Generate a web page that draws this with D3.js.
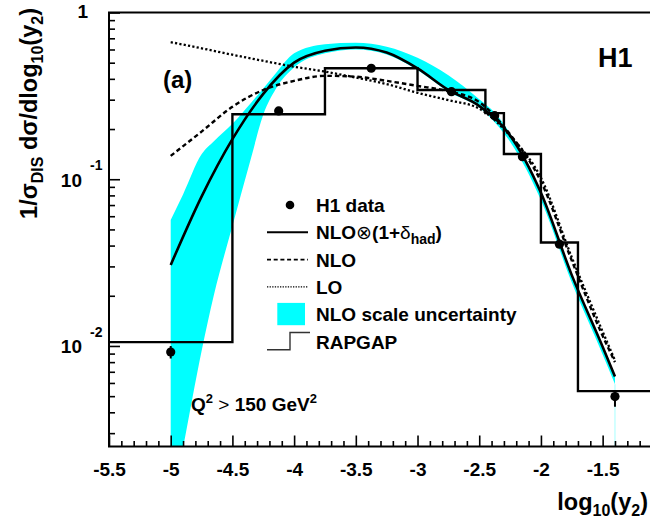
<!DOCTYPE html>
<html>
<head>
<meta charset="utf-8">
<script src="https://cdn.jsdelivr.net/npm/d3@7"></script>
<style>
  body { margin: 0; background: #fff; }
  svg { display: block; }
  text { font-family: "Liberation Sans", Arial, Helvetica, sans-serif; font-weight: bold; fill: #000; }
</style>
</head>
<body>
<svg id="chart" width="650" height="521"></svg>
<script>
// ---- H1 data: normalised cross section vs log10(y2) ----
const dataX     = [-5.0, -4.125, -3.375, -2.725, -2.375, -2.15, -1.85, -1.4];
const dataY     = [0.0092, 0.257, 0.463, 0.335, 0.2405, 0.1366, 0.0408, 0.00497];
const dataErrUp = [0.0008, 0.006, 0.010, 0.008, 0.006, 0.004, 0.0015, 0.0003];
const dataErrDn = [0.0008, 0.006, 0.010, 0.008, 0.006, 0.004, 0.0015, 0.00065];

// ---- RAPGAP prediction (histogram) ----
const rapgapEdges = [-5.5, -4.5, -3.75, -3.0, -2.45, -2.3, -2.0, -1.7, -1.1];
const rapgapY     = [0.01054, 0.2453, 0.463, 0.343, 0.249, 0.1418, 0.0417, 0.00536];

// ---- theory curves ----
const curveX = [-5.0, -4.75, -4.5, -4.25, -4.0, -3.75, -3.5, -3.25, -3.0, -2.75, -2.5, -2.25, -2.0, -1.75, -1.5, -1.4];
const nloHad = [0.0306, 0.0787, 0.174, 0.325, 0.50, 0.589, 0.617, 0.575, 0.462, 0.343, 0.275, 0.183, 0.083, 0.0266, 0.0099, 0.00656];
const nlo    = [0.138, 0.193, 0.272, 0.343, 0.389, 0.417, 0.412, 0.389, 0.363, 0.337, 0.290, 0.186, 0.097, 0.0325, 0.0115, 0.0080];
const lo     = [0.664, 0.61, 0.558, 0.513, 0.473, 0.442, 0.407, 0.372, 0.33, 0.298, 0.265, 0.182, 0.102, 0.034, 0.0122, 0.0082];

// ---- NLO scale uncertainty band ----
const bandX  = [-5.0, -4.9, -4.75, -4.65, -4.5, -4.35, -4.25, -4.15, -4.0, -3.75, -3.5, -3.25, -3.0, -2.75, -2.5, -2.375, -2.25, -2.0, -1.75, -1.5, -1.4];
const bandLo = [0.001, 0.00245, 0.0093, 0.0202, 0.0524, 0.133, 0.244, 0.347, 0.468, 0.569, 0.600, 0.560, 0.452, 0.335, 0.269, 0.220, 0.168, 0.075, 0.024, 0.0089, 0.0059];
const bandHi = [0.057, 0.081, 0.141, 0.169, 0.215, 0.287, 0.350, 0.430, 0.569, 0.646, 0.658, 0.624, 0.535, 0.420, 0.302, 0.251, 0.188, 0.085, 0.0272, 0.0101, 0.0067];

// ---- axis ticks ----
const xMajor = [-5.5, -5, -4.5, -4, -3.5, -3, -2.5, -2, -1.5, -1];
const yMajor = [1, 0.1, 0.01];
const yMajorExp = [0, -1, -2];

// ---- legend ----
const legendLabels = ["H1 data", "NLO\u2297(1+\u03b4", "NLO", "LO", "NLO scale uncertainty", "RAPGAP"];

const svg = d3.select("#chart");
const plotLeft = 109, plotTop = 12.5, plotRight = 652, plotBottom = 446.5;

const x = d3.scaleLinear().domain([-5.5, -1.1]).range([plotLeft, plotRight]);
const y = d3.scaleLog().domain([Math.pow(10, -2.603), 1]).range([plotBottom, plotTop]);

svg.append("defs").append("clipPath").attr("id", "plotClip")
  .append("rect").attr("x", plotLeft).attr("y", plotTop)
  .attr("width", plotRight - plotLeft).attr("height", plotBottom - plotTop);

const plot = svg.append("g").attr("clip-path", "url(#plotClip)");

// uncertainty band
const bandPts = bandX.map((d, i) => ({ x: d, lo: bandLo[i], hi: bandHi[i] }));
plot.append("path")
  .datum(bandPts)
  .attr("fill", "#00ffff")
  .attr("d", d3.area().x(d => x(d.x)).y0(d => y(d.lo)).y1(d => y(d.hi)).curve(d3.curveMonotoneX));

// faint edge of the band at its last point
const lastB = bandPts[bandPts.length - 1];
plot.append("line")
  .attr("x1", x(lastB.x)).attr("x2", x(lastB.x))
  .attr("y1", y(lastB.lo)).attr("y2", plotBottom)
  .attr("stroke", "#00ffff").attr("stroke-opacity", 0.35).attr("stroke-width", 1);

// RAPGAP histogram as a step line
const histPts = [];
rapgapY.forEach((v, i) => {
  histPts.push([rapgapEdges[i], v]);
  histPts.push([rapgapEdges[i + 1], v]);
});
plot.append("path")
  .datum(histPts)
  .attr("fill", "none").attr("stroke", "#000").attr("stroke-width", 2.4)
  .attr("d", d3.line().x(d => x(d[0])).y(d => y(d[1])));

// theory curves
const line = d3.line().x(d => x(d[0])).y(d => y(d[1])).curve(d3.curveMonotoneX);
plot.append("path")
  .datum(curveX.map((d, i) => [d, lo[i]]))
  .attr("fill", "none").attr("stroke", "#000").attr("stroke-width", 2.3)
  .attr("stroke-dasharray", "2.2,2.2").attr("d", line);
plot.append("path")
  .datum(curveX.map((d, i) => [d, nlo[i]]))
  .attr("fill", "none").attr("stroke", "#000").attr("stroke-width", 2.4)
  .attr("stroke-dasharray", "4.5,3").attr("d", line);
plot.append("path")
  .datum(curveX.map((d, i) => [d, nloHad[i]]))
  .attr("fill", "none").attr("stroke", "#000").attr("stroke-width", 2.6)
  .attr("d", line);

// data points with error bars
const pts = dataX.map((d, i) => ({ x: d, y: dataY[i], up: dataErrUp[i], dn: dataErrDn[i] }));
plot.selectAll("line.err").data(pts).enter().append("line")
  .attr("class", "err")
  .attr("x1", d => x(d.x)).attr("x2", d => x(d.x))
  .attr("y1", d => y(d.y + d.up)).attr("y2", d => y(d.y - d.dn))
  .attr("stroke", "#000").attr("stroke-width", 2);
plot.selectAll("circle.pt").data(pts).enter().append("circle")
  .attr("class", "pt")
  .attr("cx", d => x(d.x)).attr("cy", d => y(d.y)).attr("r", 4.6)
  .attr("fill", "#000");

// ---- axes (ticks point into the frame) ----
const xMinor = d3.range(-55, -10, 1).map(v => v / 10).filter(v => Math.abs(v * 2 - Math.round(v * 2)) > 1e-9);
const gxMinor = svg.append("g").attr("transform", `translate(0,${plotBottom})`)
  .call(d3.axisBottom(x).tickValues(xMinor).tickSizeInner(-5.5).tickSizeOuter(0).tickFormat(""));
const gxMajor = svg.append("g").attr("transform", `translate(0,${plotBottom})`)
  .call(d3.axisBottom(x).tickValues(xMajor).tickSizeInner(-11).tickSizeOuter(0).tickPadding(16.5)
    .tickFormat(d => d > -1.2 ? "" : String(d)));
[gxMinor, gxMajor].forEach(g => {
  g.select(".domain").remove();
  g.selectAll(".tick line").attr("stroke-width", 1.6);
});
gxMajor.selectAll(".tick text").style("font-size", "19px")
  .style("font-family", "'Liberation Sans', Arial, sans-serif").style("font-weight", "bold");

const yMinor = [];
[-3, -2, -1].forEach(e => {
  for (let k = 2; k <= 9; k++) {
    const v = k * Math.pow(10, e);
    if (v >= y.domain()[0] && v < 1) yMinor.push(v);
  }
});
const gyMinor = svg.append("g").attr("transform", `translate(${plotLeft},0)`)
  .call(d3.axisLeft(y).tickValues(yMinor).tickSizeInner(-6).tickSizeOuter(0).tickFormat(""));
const gyMajor = svg.append("g").attr("transform", `translate(${plotLeft},0)`)
  .call(d3.axisLeft(y).tickValues(yMajor).tickSizeInner(-11).tickSizeOuter(0).tickFormat(""));
[gyMinor, gyMajor].forEach(g => {
  g.select(".domain").remove();
  g.selectAll(".tick line").attr("stroke-width", 1.6);
});

// y tick labels: "1", "10^-1", "10^-2"
yMajor.forEach((v, i) => {
  const e = yMajorExp[i];
  if (e === 0) {
    svg.append("text").attr("x", 88).attr("y", y(v) + 5).attr("text-anchor", "end")
      .style("font-size", "19px").text("1");
  } else {
    svg.append("text").attr("x", 82).attr("y", y(v) + 7.5).attr("text-anchor", "end")
      .style("font-size", "19px").text("10");
    svg.append("text").attr("x", 90).attr("y", y(v) - 9).attr("text-anchor", "start")
      .style("font-size", "14px").text(String(e));
  }
});

// frame
const frame = svg.append("g").attr("stroke", "#000").attr("stroke-width", 2).attr("fill", "none");
frame.append("line").attr("x1", plotLeft).attr("x2", plotLeft).attr("y1", plotTop).attr("y2", plotBottom);
frame.append("line").attr("x1", plotLeft - 1).attr("x2", 650).attr("y1", plotTop).attr("y2", plotTop);
frame.append("line").attr("x1", plotLeft - 1).attr("x2", 650).attr("y1", plotBottom).attr("y2", plotBottom);

// axis titles
const yTitle = svg.append("text").attr("transform", "translate(37,8) rotate(-90)")
  .attr("text-anchor", "end").style("font-size", "23.5px");
yTitle.append("tspan").text("1/\u03c3");
yTitle.append("tspan").attr("dy", 6).style("font-size", "16px").text("DIS");
yTitle.append("tspan").attr("dy", -6).text(" d\u03c3/dlog");
yTitle.append("tspan").attr("dy", 6).style("font-size", "16px").text("10");
yTitle.append("tspan").attr("dy", -6).text("(y");
yTitle.append("tspan").attr("dy", 6).style("font-size", "16px").text("2");
yTitle.append("tspan").attr("dy", -6).text(")");

const xTitle = svg.append("text").attr("x", 648).attr("y", 510)
  .attr("text-anchor", "end").style("font-size", "23.5px");
xTitle.append("tspan").text("log");
xTitle.append("tspan").attr("dy", 6).style("font-size", "16px").text("10");
xTitle.append("tspan").attr("dy", -6).text("(y");
xTitle.append("tspan").attr("dy", 6).style("font-size", "16px").text("2");
xTitle.append("tspan").attr("dy", -6).text(")");

// panel labels
svg.append("text").attr("x", 163).attr("y", 88).style("font-size", "24px").text("(a)");
svg.append("text").attr("x", 598).attr("y", 67).style("font-size", "27px").text("H1");

const q = svg.append("text").attr("x", 191).attr("y", 411).style("font-size", "19px");
q.append("tspan").text("Q");
q.append("tspan").attr("dy", -8).style("font-size", "13px").text("2");
q.append("tspan").attr("dy", 8).style("font-weight", "normal").text(" > ");
q.append("tspan").text("150 GeV");
q.append("tspan").attr("dy", -8).style("font-size", "13px").text("2");

// ---- legend ----
const legX = 316, legY0 = 205, legDy = 27.3;
const leg = svg.append("g");
legendLabels.forEach((lab, i) => {
  const t = leg.append("text").attr("x", legX).attr("y", legY0 + i * legDy + 7).style("font-size", "19px");
  // math symbols (⊗, δ) are set in the regular weight
  lab.split(/([\u2297\u03b4])/).filter(s => s.length).forEach(part => {
    const sp = t.append("tspan").text(part);
    if (/[\u2297\u03b4]/.test(part)) sp.style("font-weight", "normal");
  });
  if (i === 1) {
    t.append("tspan").attr("dy", 5).style("font-size", "14px").text("had");
    t.append("tspan").attr("dy", -5).text(")");
  }
});
const ly = i => legY0 + i * legDy;
leg.append("circle").attr("cx", 290).attr("cy", ly(0)).attr("r", 4.3).attr("fill", "#000");
leg.append("line").attr("x1", 267).attr("x2", 308).attr("y1", ly(1)).attr("y2", ly(1))
  .attr("stroke", "#000").attr("stroke-width", 2);
leg.append("line").attr("x1", 267).attr("x2", 308).attr("y1", ly(2)).attr("y2", ly(2))
  .attr("stroke", "#000").attr("stroke-width", 1.7).attr("stroke-dasharray", "4,2.7");
leg.append("line").attr("x1", 267).attr("x2", 308).attr("y1", ly(3)).attr("y2", ly(3))
  .attr("stroke", "#000").attr("stroke-width", 1.3).attr("stroke-dasharray", "1.3,1.3");
leg.append("rect").attr("x", 277.3).attr("y", ly(4) - 11.3).attr("width", 27.7).attr("height", 22.3)
  .attr("fill", "#00ffff");
leg.append("path")
  .attr("d", `M267,${ly(5) + 8.3}H290V${ly(5) - 9}H310`)
  .attr("fill", "none").attr("stroke", "#333").attr("stroke-width", 1.4);
</script>
</body>
</html>
